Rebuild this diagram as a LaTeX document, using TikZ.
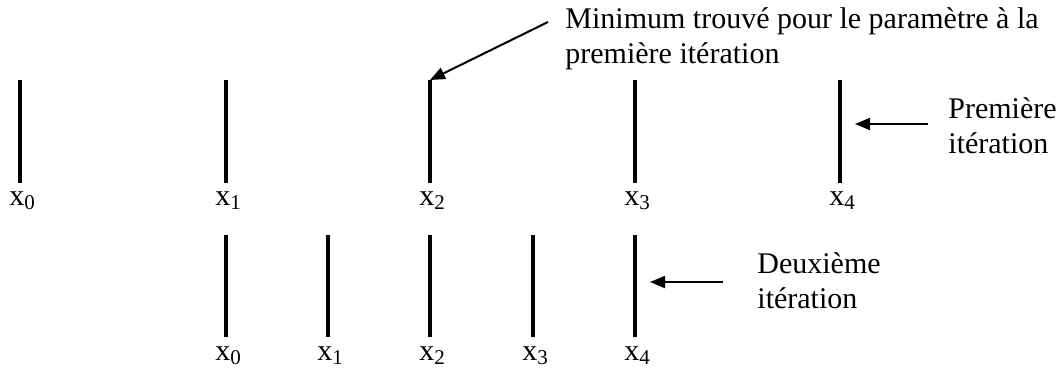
\documentclass[tikz,border=0pt]{standalone}
\usepackage{fontspec}
\setmainfont{Liberation Serif}
\usetikzlibrary{arrows.meta}

\tikzset{
  bar/.style={line width=2pt},
  fleche/.style={line width=1pt,-{Triangle[length=7.5pt,width=6pt]}},
  lab/.style={inner sep=0pt,anchor=base west},
  txt/.style={inner sep=0pt,anchor=base west,align=left}
}

\begin{document}
\begin{tikzpicture}[x=0.5pt,y=0.5pt,font=\fontsize{15}{17.5}\selectfont]
  \useasboundingbox (0,0) rectangle (1063,376);
  % premiere iteration
  \coordinate (p0h) at (20,296);  \coordinate (p0b) at (20,193);
  \coordinate (p1h) at (226,296); \coordinate (p1b) at (226,193);
  \coordinate (p2h) at (430,296); \coordinate (p2b) at (430,193);
  \coordinate (p3h) at (635,296); \coordinate (p3b) at (635,193);
  \coordinate (p4h) at (840,296); \coordinate (p4b) at (840,193);
  \draw[bar] (p0h) -- (p0b);
  \draw[bar] (p1h) -- (p1b);
  \draw[bar] (p2h) -- (p2b);
  \draw[bar] (p3h) -- (p3b);
  \draw[bar] (p4h) -- (p4b);
  \node[lab] (lp0) at (9,171) {x\textsubscript{0}};
  \node[lab] (lp1) at (215,171) {x\textsubscript{1}};
  \node[lab] (lp2) at (419,171) {x\textsubscript{2}};
  \node[lab] (lp3) at (624,171) {x\textsubscript{3}};
  \node[lab] (lp4) at (829,171) {x\textsubscript{4}};
  % deuxieme iteration
  \coordinate (d0h) at (226,141); \coordinate (d0b) at (226,39);
  \coordinate (d1h) at (328,141); \coordinate (d1b) at (328,39);
  \coordinate (d2h) at (430,141); \coordinate (d2b) at (430,39);
  \coordinate (d3h) at (533,141); \coordinate (d3b) at (533,39);
  \coordinate (d4h) at (635,141); \coordinate (d4b) at (635,39);
  \draw[bar] (d0h) -- (d0b);
  \draw[bar] (d1h) -- (d1b);
  \draw[bar] (d2h) -- (d2b);
  \draw[bar] (d3h) -- (d3b);
  \draw[bar] (d4h) -- (d4b);
  \node[lab] (ld0) at (215,16) {x\textsubscript{0}};
  \node[lab] (ld1) at (317,16) {x\textsubscript{1}};
  \node[lab] (ld2) at (419,16) {x\textsubscript{2}};
  \node[lab] (ld3) at (522,16) {x\textsubscript{3}};
  \node[lab] (ld4) at (624,16) {x\textsubscript{4}};
  % textes et fleches
  \node[txt] (mini) at (565,313) {Minimum trouvé pour le paramètre à la\\première itération};
  \node[txt] (prem) at (948,223) {Première\\itération};
  \node[txt] (deux) at (757,68) {Deuxième\\itération};
  \coordinate (fm) at (548,354);
  \coordinate (fp) at (928,252);
  \coordinate (fd) at (723,94);
  \draw[fleche] (fm) -- (p2h);
  \draw[fleche] (fp) -- (855,252);
  \draw[fleche] (fd) -- (650,94);
\end{tikzpicture}
\end{document}
